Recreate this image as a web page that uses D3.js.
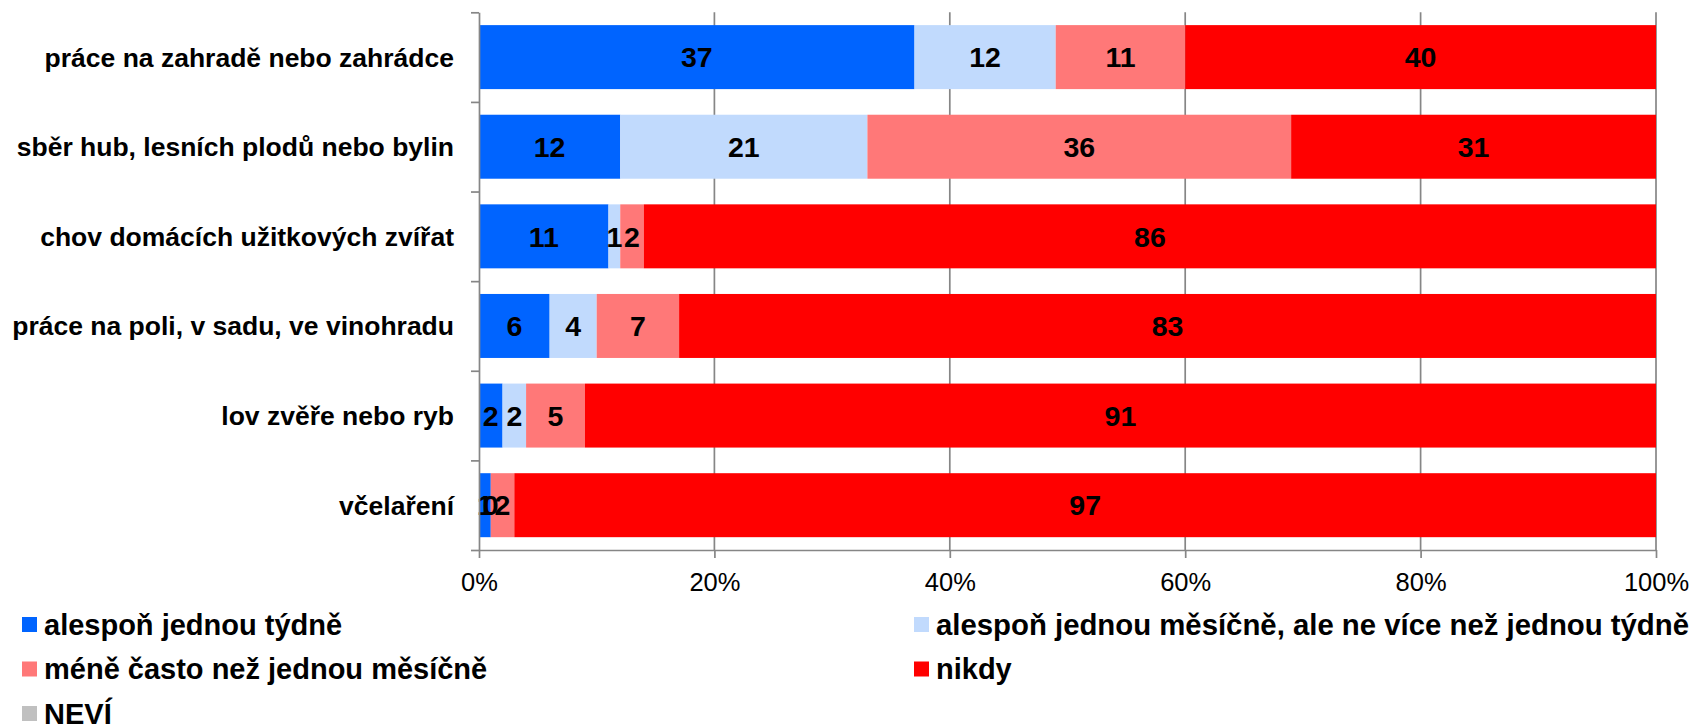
<!DOCTYPE html>
<html>
<head>
<meta charset="utf-8">
<script src="https://cdn.jsdelivr.net/npm/d3@7"></script>
<style>
  body { margin: 0; background: #fff; }
  text { font-family: "Liberation Sans", Arial, sans-serif; }
</style>
</head>
<body>
<svg id="chart" width="1694" height="726"></svg>
<script>
(function() {

    var width = 1694, height = 726

    // categories top to bottom
    var categories = [
        "práce na zahradě nebo zahrádce",
        "sběr hub, lesních plodů nebo bylin",
        "chov domácích užitkových zvířat",
        "práce na poli, v sadu, ve vinohradu",
        "lov zvěře nebo ryb",
        "včelaření"
    ]

    // series values (%)
    var tydne   = [37, 12, 11, 6, 2, 1]
    var mesicne = [12, 21, 1, 4, 2, 0]
    var mene    = [11, 36, 2, 7, 5, 2]
    var nikdy   = [40, 31, 86, 83, 91, 97]
    var nevi    = [0, 0, 0, 0, 0, 0]

    var seriesNames = [
        "alespoň jednou týdně",
        "alespoň jednou měsíčně, ale ne více než jednou týdně",
        "méně často než jednou měsíčně",
        "nikdy",
        "NEVÍ"
    ]
    var keys = ["tydne", "mesicne", "mene", "nikdy", "nevi"]
    var colors = ["#0064ff", "#c1dafd", "#ff7878", "#ff0000", "#c0c0c0"]
    var xTicks = [0, 20, 40, 60, 80, 100]

    // build rows for d3.stack
    var rows = categories.map(function(c, i) {
        return { cat: c, tydne: tydne[i], mesicne: mesicne[i], mene: mene[i], nikdy: nikdy[i], nevi: nevi[i] }
    })
    var stacked = d3.stack().keys(keys)(rows)

    var svg = d3.select("#chart")

    var x = d3.scaleLinear().domain([0, 100]).range([479, 1656])
    var y = d3.scaleBand().domain(categories).range([12.3, 550])
        .paddingInner(0.286).paddingOuter(0.143)
    var color = d3.scaleOrdinal().domain(keys).range(colors)

    // gridlines
    svg.append("g")
        .selectAll("line")
        .data(xTicks.slice(1))
        .join("line")
        .attr("x1", d => x(d)).attr("x2", d => x(d))
        .attr("y1", 12.3).attr("y2", 550)
        .attr("stroke", "#868686")
        .attr("stroke-width", 1.7)

    // bars
    var layer = svg.append("g")
        .selectAll("g")
        .data(stacked)
        .join("g")
        .attr("fill", d => color(d.key))

    layer.selectAll("rect")
        .data(d => d)
        .join("rect")
        .attr("x", d => x(d[0]))
        .attr("y", d => y(d.data.cat))
        .attr("width", d => x(d[1]) - x(d[0]))
        .attr("height", y.bandwidth())

    // value labels (not for NEVÍ)
    var labelled = stacked.filter(s => s.key !== "nevi")
    svg.append("g")
        .selectAll("g")
        .data(labelled)
        .join("g")
        .selectAll("text")
        .data(s => s.map(d => ({ v: d[1] - d[0], mid: (d[0] + d[1]) / 2, cat: d.data.cat })))
        .join("text")
        .attr("x", d => x(d.mid))
        .attr("y", d => y(d.cat) + y.bandwidth() / 2)
        .attr("dy", "0.36em")
        .attr("text-anchor", "middle")
        .attr("font-weight", "bold")
        .attr("font-size", 28.5)
        .attr("fill", "#000")
        .text(d => d.v)

    // y axis: line with ticks at band boundaries
    var yb = d3.scaleLinear().domain([0, categories.length]).range([12.3, 550])
    var yAxis = svg.append("g")
        .attr("transform", "translate(" + x(0) + ",0)")
        .call(d3.axisLeft(yb).ticks(categories.length).tickSize(8).tickSizeOuter(0).tickFormat(""))
    yAxis.selectAll("path, line").attr("stroke", "#868686").attr("stroke-width", 1.7)

    // category labels
    svg.append("g")
        .selectAll("text")
        .data(categories)
        .join("text")
        .attr("x", 454)
        .attr("y", d => y(d) + y.bandwidth() / 2)
        .attr("dy", "0.36em")
        .attr("text-anchor", "end")
        .attr("font-weight", "bold")
        .attr("font-size", 26.5)
        .attr("fill", "#000")
        .text(d => d)

    // x axis
    var xAxis = svg.append("g")
        .attr("transform", "translate(0,550)")
        .call(d3.axisBottom(x).tickValues(xTicks).tickSize(8).tickSizeOuter(0).tickFormat(d => d + "%"))
    xAxis.selectAll("path, line").attr("stroke", "#868686").attr("stroke-width", 1.7)
    xAxis.selectAll("text")
        .attr("y", 23)
        .attr("font-size", 25.5)
        .attr("font-family", "Liberation Sans, Arial, sans-serif")
        .attr("fill", "#000")

    // legend
    var legendPos = [[22, 624.5], [914, 624.5], [22, 669], [914, 669], [22, 713.5]]
    var legend = svg.append("g")
        .selectAll("g")
        .data(seriesNames)
        .join("g")
        .attr("transform", (d, i) => "translate(" + legendPos[i][0] + "," + legendPos[i][1] + ")")

    legend.append("rect")
        .attr("x", 0).attr("y", -7.5)
        .attr("width", 15).attr("height", 15)
        .attr("fill", (d, i) => colors[i])

    legend.append("text")
        .attr("x", 22)
        .attr("dy", "0.36em")
        .attr("font-weight", "bold")
        .attr("font-size", 29)
        .attr("fill", "#000")
        .attr("textLength", (d, i) => i === 1 ? 753 : null)
        .attr("lengthAdjust", (d, i) => i === 1 ? "spacingAndGlyphs" : null)
        .text(d => d)

})();
</script>
</body>
</html>
